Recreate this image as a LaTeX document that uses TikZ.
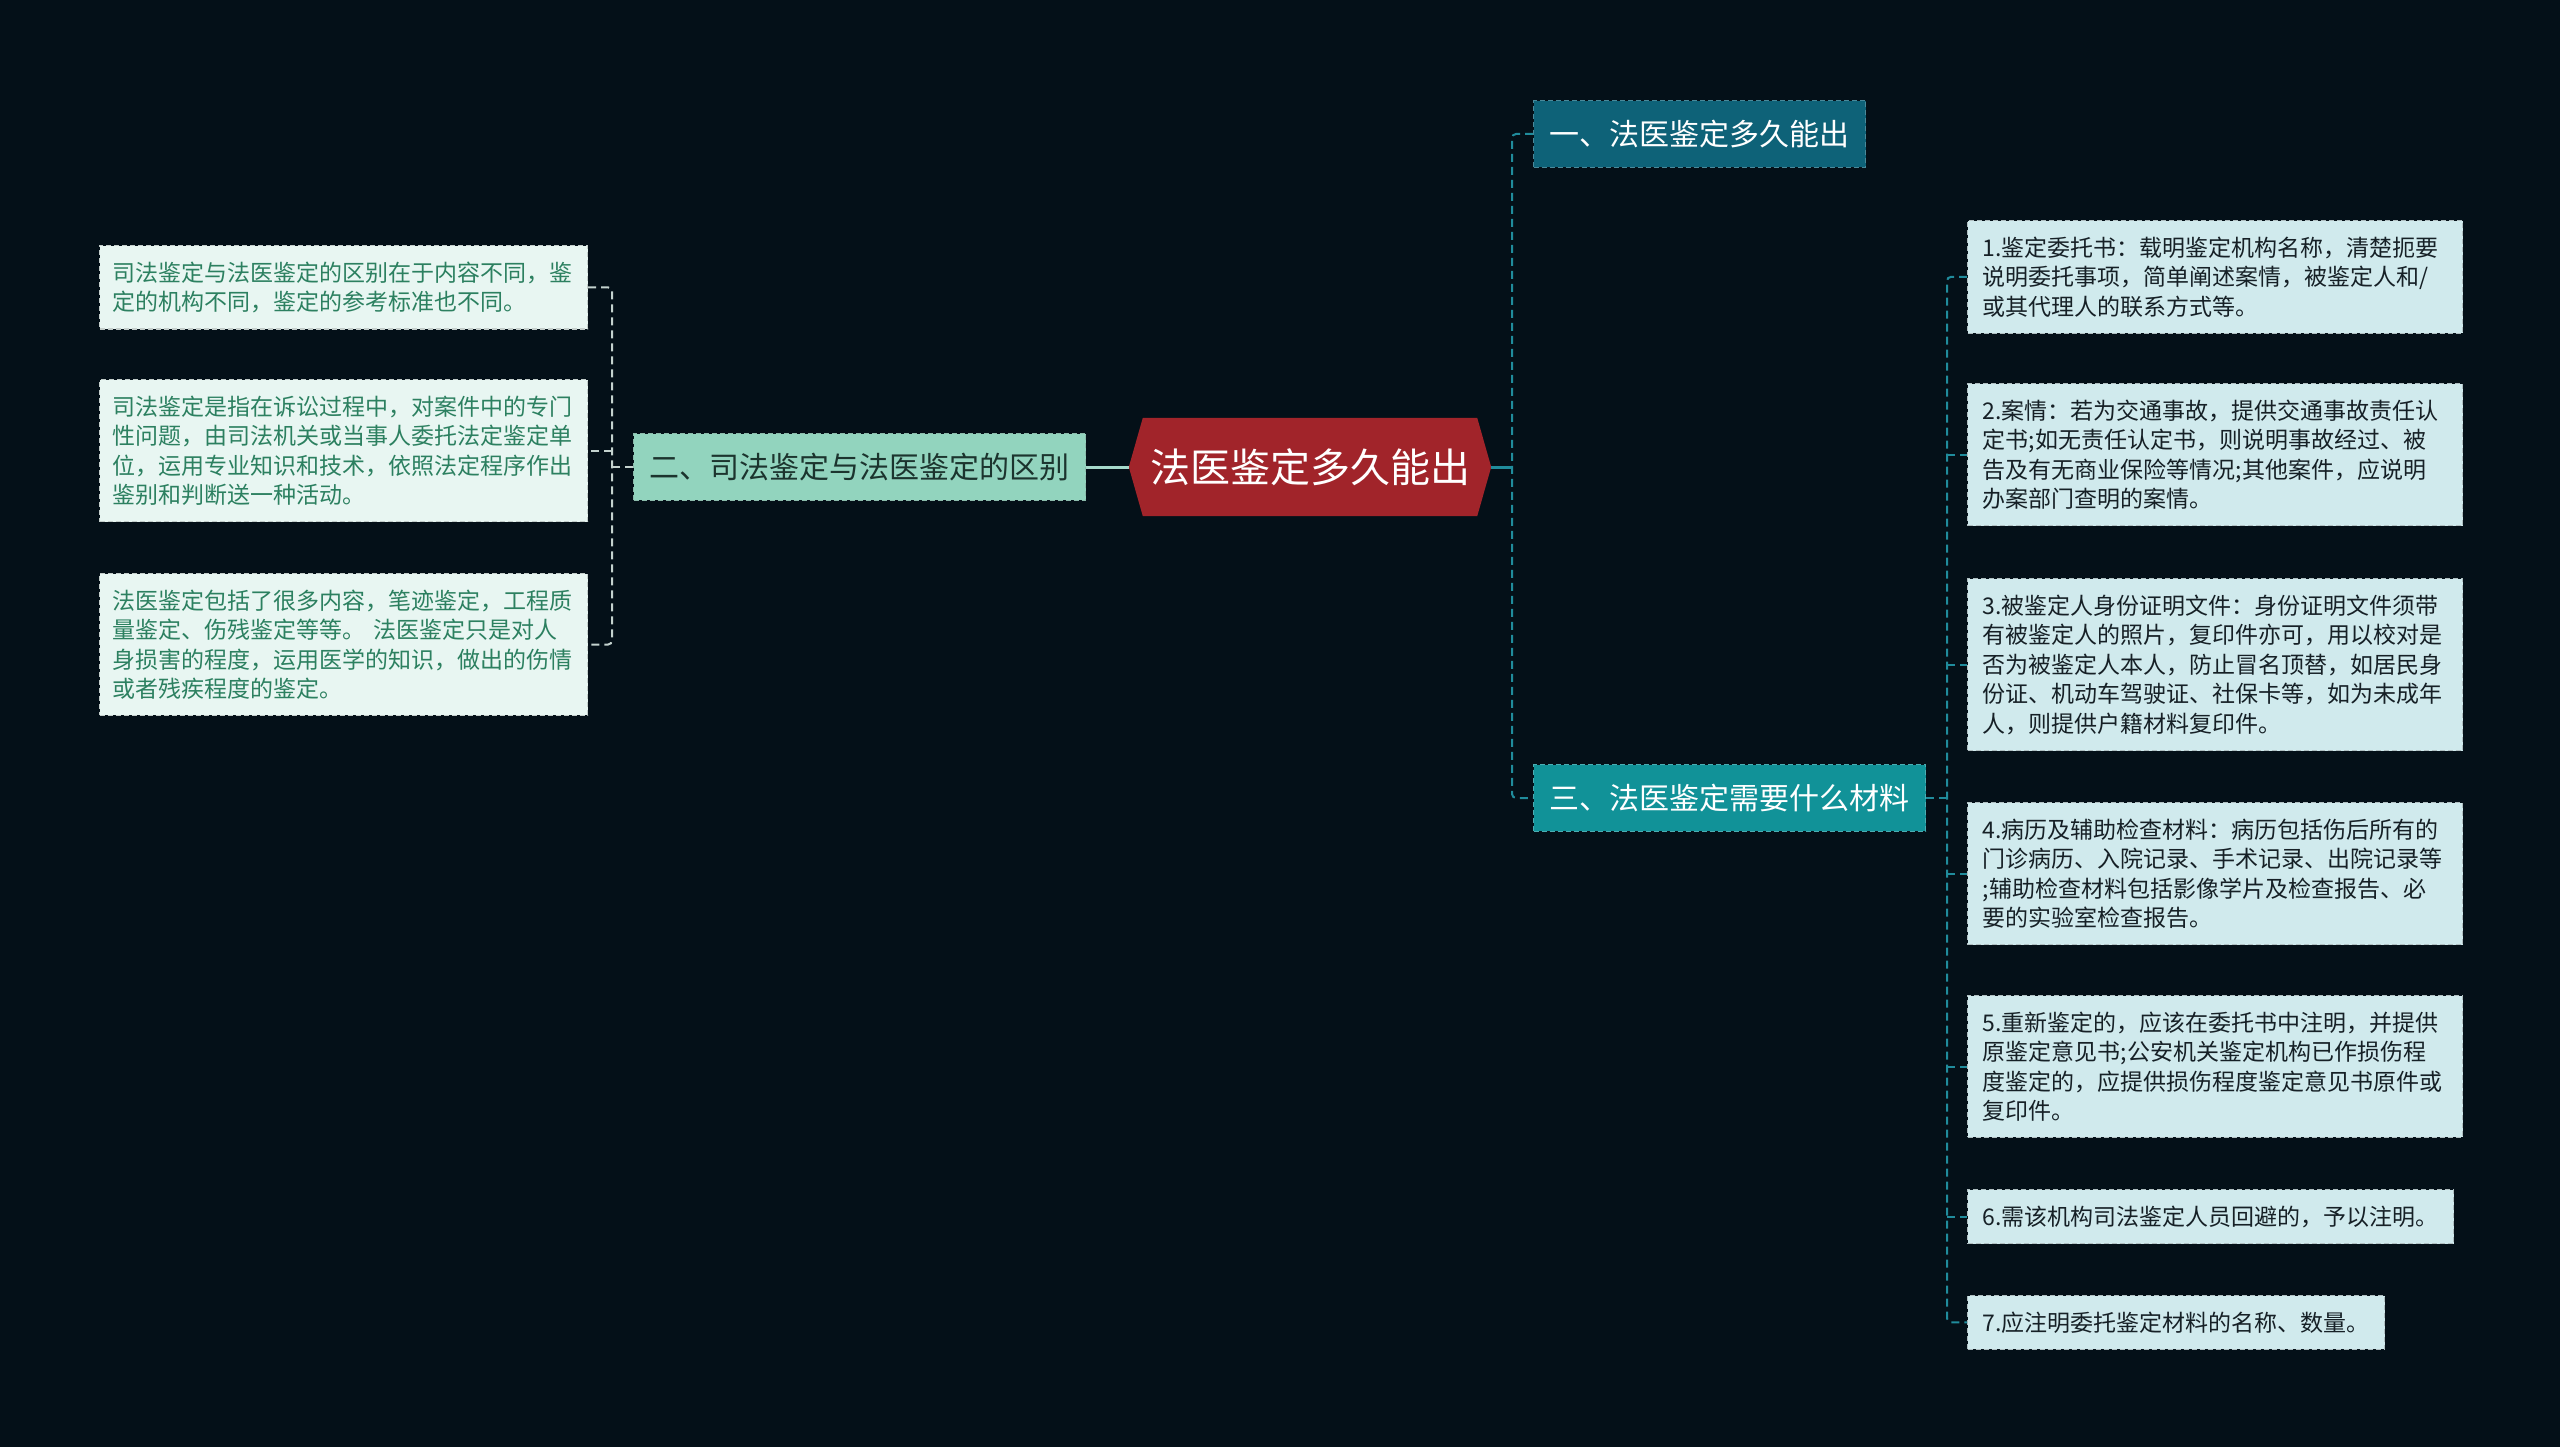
\documentclass[tikz,border=0pt]{standalone}
\usepackage{fontspec}
\setmainfont{Noto Sans CJK SC}
\usetikzlibrary{backgrounds}
\definecolor{MapBg}{RGB}{4,16,24}
\definecolor{RootRed}{RGB}{161,36,42}
\definecolor{TopicDark}{RGB}{14,98,120}
\definecolor{TopicTeal}{RGB}{17,146,152}
\definecolor{TopicMint}{RGB}{146,212,190}
\definecolor{MintText}{RGB}{28,52,46}
\definecolor{NoteLeft}{RGB}{232,246,242}
\definecolor{NoteLeftText}{RGB}{44,128,96}
\definecolor{NoteRight}{RGB}{208,234,237}
\definecolor{NoteRightText}{RGB}{22,32,38}
\definecolor{LinkTeal}{RGB}{32,140,156}
\definecolor{LinkMint}{RGB}{166,218,203}
\definecolor{LinkGray}{RGB}{196,210,206}

\begin{document}
\begin{tikzpicture}[
    x=1pt, y=-1pt,
    every node/.style={align=left},
    rootbox/.style={minimum width=362pt, minimum height=98pt, inner sep=0pt, align=center, text=white, font=\fontsize{40}{48}\selectfont},
    topicbox/.style={rectangle, anchor=west, inner xsep=16pt, inner ysep=19.5pt, line width=1.2pt, dash pattern=on 5pt off 3pt, font=\fontsize{30}{36}\selectfont},
    topicdark/.style={topicbox, fill=TopicDark, draw=TopicDark!75!white, text=white},
    topicteal/.style={topicbox, fill=TopicTeal, draw=TopicTeal!75!white, text=white},
    topicmint/.style={topicbox, fill=TopicMint, draw=TopicMint!70!gray, text=MintText},
    notebox/.style={rectangle, anchor=north west, inner ysep=16pt, line width=1.2pt, dash pattern=on 5pt off 3pt, font=\fontsize{23}{29.5}\selectfont},
    noteleft/.style={notebox, inner xsep=13pt, text width=462pt, fill=NoteLeft, draw=NoteLeft!65!gray, text=NoteLeftText},
    noteright/.style={notebox, inner xsep=15pt, fill=NoteRight, draw=NoteRight!60!gray, text=NoteRightText},
    notewide/.style={noteright, text width=465pt},
    linkteal/.style={draw=LinkTeal, line width=2pt, dash pattern=on 8pt off 5pt, rounded corners=4pt},
    linkgray/.style={draw=LinkGray, line width=2pt, dash pattern=on 8pt off 5pt, rounded corners=4pt},
    linkmint/.style={draw=LinkMint, line width=3pt},
    linksolid/.style={draw=LinkTeal, line width=3pt}
  ]
    % Root
    \node[rootbox] (root) at (1310,467) {法医鉴定多久能出};

    % Topics
    \node[topicdark] (br1) at (1533,134) {一、法医鉴定多久能出};
    \node[topicmint] (br2) at (633,467) {二、司法鉴定与法医鉴定的区别};
    \node[topicteal] (br3) at (1533,798) {三、法医鉴定需要什么材料};

    % Left notes
    \node[noteleft] (l1) at (99,245) {司法鉴定与法医鉴定的区别在于内容不同，鉴\\定的机构不同，鉴定的参考标准也不同。};
    \node[noteleft] (l2) at (99,379) {司法鉴定是指在诉讼过程中，对案件中的专门\\性问题，由司法机关或当事人委托法定鉴定单\\位，运用专业知识和技术，依照法定程序作出\\鉴别和判断送一种活动。};
    \node[noteleft] (l3) at (99,573) {法医鉴定包括了很多内容，笔迹鉴定，工程质\\量鉴定、伤残鉴定等等。 法医鉴定只是对人\\身损害的程度，运用医学的知识，做出的伤情\\或者残疾程度的鉴定。};

    % Right notes
    \node[notewide] (r1) at (1967,220) {1.鉴定委托书：载明鉴定机构名称，清楚扼要\\说明委托事项，简单阐述案情，被鉴定人和/\\或其代理人的联系方式等。};
    \node[notewide] (r2) at (1967,383) {2.案情：若为交通事故，提供交通事故责任认\\定书;如无责任认定书，则说明事故经过、被\\告及有无商业保险等情况;其他案件，应说明\\办案部门查明的案情。};
    \node[notewide] (r3) at (1967,578) {3.被鉴定人身份证明文件：身份证明文件须带\\有被鉴定人的照片，复印件亦可，用以校对是\\否为被鉴定人本人，防止冒名顶替，如居民身\\份证、机动车驾驶证、社保卡等，如为未成年\\人，则提供户籍材料复印件。};
    \node[notewide] (r4) at (1967,802) {4.病历及辅助检查材料：病历包括伤后所有的\\门诊病历、入院记录、手术记录、出院记录等\\;辅助检查材料包括影像学片及检查报告、必\\要的实验室检查报告。};
    \node[notewide] (r5) at (1967,995) {5.重新鉴定的，应该在委托书中注明，并提供\\原鉴定意见书;公安机关鉴定机构已作损伤程\\度鉴定的，应提供损伤程度鉴定意见书原件或\\复印件。};
    \node[noteright] (r6) at (1967,1189) {6.需该机构司法鉴定人员回避的，予以注明。};
    \node[noteright] (r7) at (1967,1295) {7.应注明委托鉴定材料的名称、数量。};

    % Background and root shape
    \begin{scope}[on background layer]
      \fill[MapBg] (0,0) rectangle (2560,1447);
      \fill[RootRed] (root.west) -- ([xshift=14pt]root.north west) -- ([xshift=-14pt]root.north east)
        -- (root.east) -- ([xshift=-14pt]root.south east) -- ([xshift=14pt]root.south west) -- cycle;
    \end{scope}

    % Connections
    \coordinate (hubR) at (1512,467);
    \coordinate (hubM) at (1947,798);
    \coordinate (hubL) at (612,467);

    \draw[linkmint] (br2.east) -- (root.west);
    \draw[linksolid] (root.east) -- (hubR);
    \draw[linkteal] (br1.west) -- (br1.west -| hubR) -- (br3.west -| hubR) -- (br3.west);

    \draw[linkteal] (br3.east) -- (hubM);
    \draw[linkteal] (r1.west) -- (r1.west -| hubM) -- (r7.west -| hubM) -- (r7.west);
    \foreach \i in {2,...,6}
      \draw[linkteal] (hubM |- r\i.west) -- (r\i.west);

    \draw[linkgray] (br2.west) -- (hubL);
    \draw[linkgray] (l1.east) -- (l1.east -| hubL) -- (l3.east -| hubL) -- (l3.east);
    \draw[linkgray] (hubL |- l2.east) -- (l2.east);
  \end{tikzpicture}
\end{document}
